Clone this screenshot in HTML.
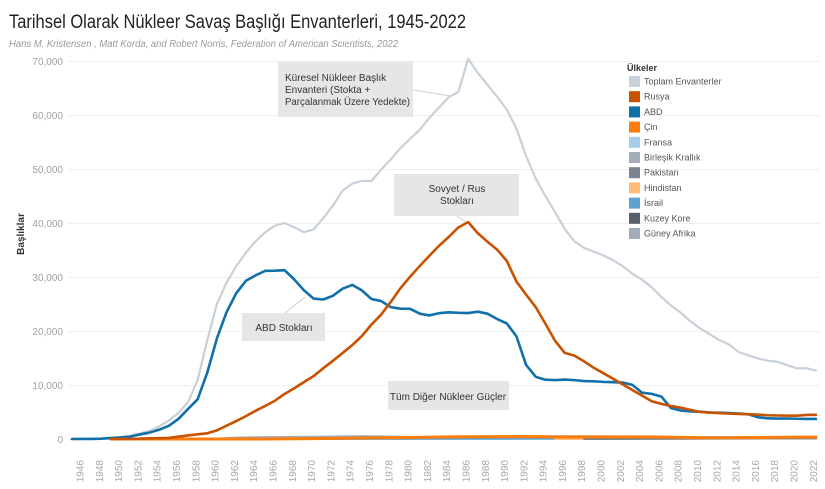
<!DOCTYPE html>
<html><head><meta charset="utf-8"><style>
html,body{margin:0;padding:0;background:#fff;}
svg{display:block;font-family:"Liberation Sans",sans-serif;}
</style></head><body>
<svg width="825" height="489" viewBox="0 0 825 489" xmlns="http://www.w3.org/2000/svg">
<rect width="825" height="489" fill="#fff"/>
<text x="9" y="28" font-size="19" fill="#222" textLength="457" lengthAdjust="spacingAndGlyphs">Tarihsel Olarak Nükleer Savaş Başlığı Envanterleri, 1945-2022</text>
<text x="9" y="47" font-size="10" font-style="italic" fill="#9a9a9a" textLength="389" lengthAdjust="spacingAndGlyphs">Hans M. Kristensen , Matt Korda, and Robert Norris, Federation of American Scientists, 2022</text>

<g stroke="#efefef" stroke-width="1">
<line x1="68" y1="439.5" x2="820" y2="439.5"/>
<line x1="68" y1="385.5" x2="820" y2="385.5"/>
<line x1="68" y1="331.5" x2="820" y2="331.5"/>
<line x1="68" y1="277.5" x2="820" y2="277.5"/>
<line x1="68" y1="223.5" x2="820" y2="223.5"/>
<line x1="68" y1="169.5" x2="820" y2="169.5"/>
<line x1="68" y1="115.5" x2="820" y2="115.5"/>
<line x1="68" y1="61.5" x2="820" y2="61.5"/>
</g>
<g font-size="10" fill="#a0a0a0" text-anchor="end">
<text x="63" y="443">0</text>
<text x="63" y="389">10,000</text>
<text x="63" y="335">20,000</text>
<text x="63" y="281">30,000</text>
<text x="63" y="227">40,000</text>
<text x="63" y="173">50,000</text>
<text x="63" y="119">60,000</text>
<text x="63" y="65">70,000</text>
</g>
<text transform="translate(24,234) rotate(-90)" font-size="10" font-weight="bold" fill="#333" text-anchor="middle">Başlıklar</text>

<g stroke="#cfcfcf" stroke-width="1" fill="none">
<line x1="413" y1="90" x2="451" y2="96"/>
<line x1="457" y1="216" x2="466" y2="222"/>
<line x1="285" y1="313" x2="305" y2="297"/>
</g>

<g transform="translate(72,439) scale(9.662,-0.0054)" fill="none" stroke-linejoin="round" stroke-linecap="round">
<polyline vector-effect="non-scaling-stroke" stroke="#c8d0d9" stroke-width="2.2" points="0,2 1,9 2,13 3,50 4,200 5,350 6,600 7,1000 8,1500 9,2300 10,3400 11,4800 12,6800 13,10900 14,18300 15,25000 16,29000 17,32000 18,34500 19,36600 20,38300 21,39500 22,40000 23,39200 24,38300 25,38800 26,40900 27,43200 28,46000 29,47300 30,47800 31,47800 32,49900 33,51800 34,53900 35,55600 36,57300 37,59500 38,61400 39,63300 40,64300 41,70400 42,67800 43,65600 44,63400 45,61000 46,57500 47,52400 48,48200 49,45000 50,42000 51,38900 52,36600 53,35400 54,34700 55,34000 56,33100 57,32000 58,30600 59,29500 60,28100 61,26300 62,24700 63,23400 64,21800 65,20500 66,19400 67,18300 68,17500 69,16100 70,15500 71,14900 72,14500 73,14300 74,13700 75,13100 76,13100 77,12700"/>
<polyline vector-effect="non-scaling-stroke" stroke="#a3acb9" stroke-width="2.5" points="4,0 7,0 8,1 10,10 15,30 17,205 20,310 25,375 30,492 35,350 40,300 50,300 55,280 65,225 77,225"/>
<polyline vector-effect="non-scaling-stroke" stroke="#a3cce9" stroke-width="2.2" points="19,0 20,32 25,36 30,188 35,250 40,360 46,540 50,500 55,470 60,350 65,300 77,290"/>
<polyline vector-effect="non-scaling-stroke" stroke="#5fa2ce" stroke-width="2" points="22,2 30,20 40,40 50,60 60,80 77,90"/>
<polyline vector-effect="non-scaling-stroke" stroke="#ffbc79" stroke-width="2" points="50,0 53,10 60,50 70,100 77,160"/>
<polyline vector-effect="non-scaling-stroke" stroke="#7b848f" stroke-width="2" points="53,0 55,10 60,40 70,120 77,165"/>
<polyline vector-effect="non-scaling-stroke" stroke="#fc7d0b" stroke-width="3" points="4,0 19,0 20,5 22,25 25,75 30,185 35,280 40,425 48,435 50,400 60,400 63,300 65,240 70,260 75,350 77,350"/>
<polyline vector-effect="non-scaling-stroke" stroke="#1170aa" stroke-width="2.6" points="0,2 1,9 2,13 3,50 4,170 5,299 6,438 7,841 8,1169 9,1703 10,2422 11,3692 12,5543 13,7345 14,12298 15,18638 16,23500 17,27000 18,29300 19,30300 20,31139 21,31175 22,31255 23,29561 24,27552 25,26008 26,25830 27,26516 28,27835 29,28537 30,27519 31,25914 32,25542 33,24418 34,24138 35,24104 36,23208 37,22886 38,23305 39,23459 40,23368 41,23317 42,23575 43,23205 44,22217 45,21392 46,19008 47,13708 48,11511 49,10979 50,10904 51,11011 52,10903 53,10732 54,10685 55,10577 56,10526 57,10457 58,10027 59,8570 60,8360 61,7853 62,5709 63,5273 64,5113 65,5066 66,4897 67,4881 68,4804 69,4717 70,4571 71,4018 72,3822 73,3785 74,3805 75,3750 76,3708 77,3708"/>
<polyline vector-effect="non-scaling-stroke" stroke="#c85200" stroke-width="2.6" points="4,1 5,5 6,25 7,50 8,120 9,150 10,200 11,426 12,660 13,869 14,1060 15,1605 16,2471 17,3322 18,4238 19,5221 20,6129 21,7089 22,8339 23,9399 24,10538 25,11643 26,13092 27,14478 28,15915 29,17385 30,19055 31,21205 32,23044 33,25393 34,27935 35,30062 36,32049 37,33952 38,35804 39,37431 40,39197 41,40159 42,38107 43,36538 44,35078 45,32980 46,29154 47,26734 48,24403 49,21339 50,18179 51,15942 52,15442 53,14368 54,13188 55,12188 56,11152 57,10114 58,9076 59,8038 60,7000 61,6500 62,6100 63,5800 64,5400 65,5000 66,4900 67,4800 68,4700 69,4650 70,4600 71,4500 72,4400 73,4350 74,4330 75,4310 76,4450 77,4480"/>
</g>

<rect x="278" y="62" width="135" height="55" fill="#e6e6e6"/>
<g font-size="10" fill="#333">
<text x="285" y="81">Küresel Nükleer Başlık</text>
<text x="285" y="93">Envanteri (Stokta +</text>
<text x="285" y="105" textLength="125" lengthAdjust="spacingAndGlyphs">Parçalanmak Üzere Yedekte)</text>
</g>
<rect x="394" y="174" width="125" height="42" fill="#e6e6e6"/>
<g font-size="10" fill="#333" text-anchor="middle">
<text x="457" y="192">Sovyet / Rus</text>
<text x="457" y="204">Stokları</text>
</g>
<rect x="242" y="313" width="83" height="28" fill="#e6e6e6"/>
<text x="284" y="331" font-size="10" fill="#333" text-anchor="middle">ABD Stokları</text>
<rect x="388" y="381" width="121" height="29" fill="#e6e6e6"/>
<text x="448" y="400" font-size="10" fill="#333" text-anchor="middle">Tüm Diğer Nükleer Güçler</text>

<text x="627" y="71" font-size="9" font-weight="bold" fill="#333">Ülkeler</text>
<g font-size="9" fill="#555">
<rect x="629" y="76" width="11" height="11" fill="#c8d0d9"/><text x="644" y="84.5">Toplam Envanterler</text>
<rect x="629" y="91.2" width="11" height="11" fill="#c85200"/><text x="644" y="99.7">Rusya</text>
<rect x="629" y="106.4" width="11" height="11" fill="#1170aa"/><text x="644" y="114.9">ABD</text>
<rect x="629" y="121.6" width="11" height="11" fill="#fc7d0b"/><text x="644" y="130.1">Çin</text>
<rect x="629" y="136.8" width="11" height="11" fill="#a3cce9"/><text x="644" y="145.3">Fransa</text>
<rect x="629" y="152" width="11" height="11" fill="#a3acb9"/><text x="644" y="160.5">Birleşik Krallık</text>
<rect x="629" y="167.2" width="11" height="11" fill="#7b848f"/><text x="644" y="175.7">Pakistan</text>
<rect x="629" y="182.4" width="11" height="11" fill="#ffbc79"/><text x="644" y="190.9">Hindistan</text>
<rect x="629" y="197.6" width="11" height="11" fill="#5fa2ce"/><text x="644" y="206.1">İsrail</text>
<rect x="629" y="212.8" width="11" height="11" fill="#57606c"/><text x="644" y="221.3">Kuzey Kore</text>
<rect x="629" y="228" width="11" height="11" fill="#a3acb9"/><text x="644" y="236.5">Güney Afrika</text>
</g>

<g font-size="10" fill="#a8a8a8" text-anchor="end">
<text transform="translate(83.5,460) rotate(-90)">1946</text>
<text transform="translate(102.8,460) rotate(-90)">1948</text>
<text transform="translate(122.1,460) rotate(-90)">1950</text>
<text transform="translate(141.4,460) rotate(-90)">1952</text>
<text transform="translate(160.7,460) rotate(-90)">1954</text>
<text transform="translate(180,460) rotate(-90)">1956</text>
<text transform="translate(199.3,460) rotate(-90)">1958</text>
<text transform="translate(218.6,460) rotate(-90)">1960</text>
<text transform="translate(237.9,460) rotate(-90)">1962</text>
<text transform="translate(257.2,460) rotate(-90)">1964</text>
<text transform="translate(276.5,460) rotate(-90)">1966</text>
<text transform="translate(295.8,460) rotate(-90)">1968</text>
<text transform="translate(315.1,460) rotate(-90)">1970</text>
<text transform="translate(334.4,460) rotate(-90)">1972</text>
<text transform="translate(353.7,460) rotate(-90)">1974</text>
<text transform="translate(373,460) rotate(-90)">1976</text>
<text transform="translate(392.3,460) rotate(-90)">1978</text>
<text transform="translate(411.6,460) rotate(-90)">1980</text>
<text transform="translate(430.9,460) rotate(-90)">1982</text>
<text transform="translate(450.2,460) rotate(-90)">1984</text>
<text transform="translate(469.5,460) rotate(-90)">1986</text>
<text transform="translate(488.8,460) rotate(-90)">1988</text>
<text transform="translate(508.1,460) rotate(-90)">1990</text>
<text transform="translate(527.4,460) rotate(-90)">1992</text>
<text transform="translate(546.6,460) rotate(-90)">1994</text>
<text transform="translate(565.9,460) rotate(-90)">1996</text>
<text transform="translate(585.2,460) rotate(-90)">1998</text>
<text transform="translate(604.5,460) rotate(-90)">2000</text>
<text transform="translate(623.8,460) rotate(-90)">2002</text>
<text transform="translate(643.1,460) rotate(-90)">2004</text>
<text transform="translate(662.4,460) rotate(-90)">2006</text>
<text transform="translate(681.7,460) rotate(-90)">2008</text>
<text transform="translate(701,460) rotate(-90)">2010</text>
<text transform="translate(720.3,460) rotate(-90)">2012</text>
<text transform="translate(739.6,460) rotate(-90)">2014</text>
<text transform="translate(758.9,460) rotate(-90)">2016</text>
<text transform="translate(778.2,460) rotate(-90)">2018</text>
<text transform="translate(797.5,460) rotate(-90)">2020</text>
<text transform="translate(816.8,460) rotate(-90)">2022</text>
</g>
</svg>
</body></html>
